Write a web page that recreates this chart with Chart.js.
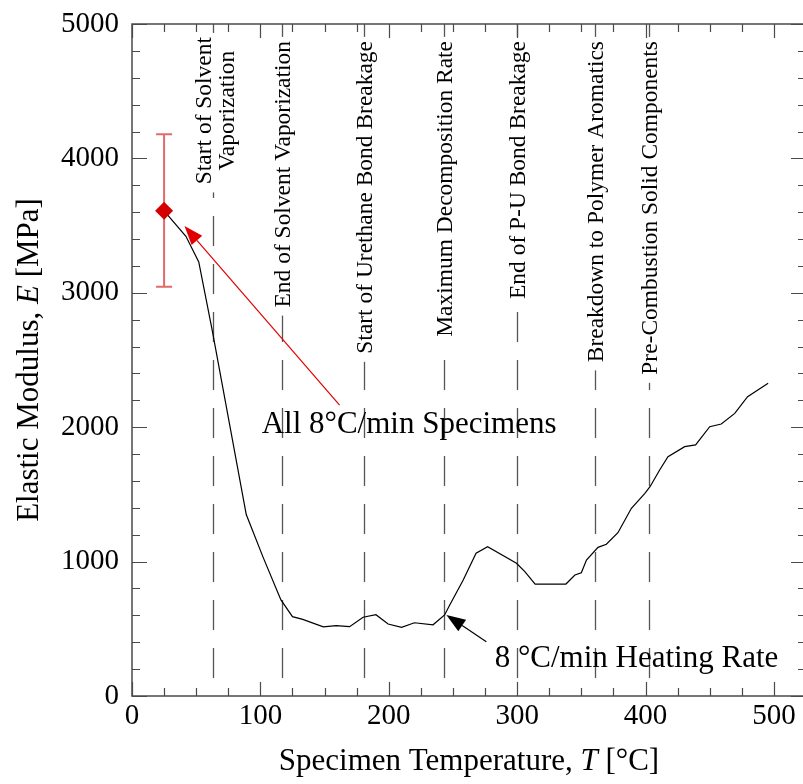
<!DOCTYPE html>
<html>
<head>
<meta charset="utf-8">
<script src="https://cdn.jsdelivr.net/npm/chart.js@4.4.1/dist/chart.umd.min.js"></script>
<style>
  html, body { margin: 0; padding: 0; background: #ffffff; overflow: hidden; }
  #wrap { position: relative; width: 803px; height: 784px; overflow: hidden; }
</style>
</head>
<body>
<div id="wrap"><canvas id="chart" width="803" height="784"></canvas></div>
<script>
// Elastic modulus of the specimen while heated at 8 °C/min
const temperature = [25, 42, 52, 62.6, 89, 102, 116, 125, 133, 149, 159, 169.5, 180, 190, 199.5,
  210, 220, 234.5, 243.5, 247.5, 258, 268, 277, 299.5, 306, 314, 338, 345, 350, 354,
  363, 369.5, 378.5, 389, 399.5, 403.5, 411, 417.5, 430.5, 439, 450, 459, 469.5, 479.5, 495.5];
const modulus = [3610, 3420, 3230, 2715, 1350, 1035, 715, 590, 570, 515, 523, 516, 586, 605, 536,
  511, 545, 530, 603, 677, 863, 1062, 1111, 987, 925, 833, 833, 900, 917, 1012,
  1106, 1129, 1215, 1397, 1508, 1557, 1682, 1780, 1855, 1868, 2004, 2024, 2103, 2227, 2327];

// Room-temperature mean of all 8 °C/min specimens with its scatter band
const specimenT = [25];
const specimenE = [3610];
const specimenLow = [3045];
const specimenHigh = [4180];

// Thermal events marked along the heating curve
const eventT = [63, 117, 181, 243, 300, 361, 403];
const eventLabels = [
  ["Start of Solvent", "Vaporization"],
  ["End of Solvent Vaporization"],
  ["Start of Urethane Bond Breakage"],
  ["Maximum Decomposition Rate"],
  ["End of P-U Bond Breakage"],
  ["Breakdown to Polymer Aromatics"],
  ["Pre-Combustion Solid Components"]
];

// Axis ticks
const xTickValues = [0, 100, 200, 300, 400, 500];
const yTickValues = [0, 1000, 2000, 3000, 4000, 5000];

// Callouts: text anchor and arrow tail/tip in data units
const callouts = [
  { text: "All 8°C/min Specimens", at: [101, 1957], tail: [161.7, 2165], tip: [40.9, 3497], color: "#e00000" },
  { text: "8 °C/min Heating Rate", at: [282.5, 216], tail: [276, 404], tip: [244.9, 603], color: "#000000" }
];

const SERIF = '"Liberation Serif", "Times New Roman", serif';
const AXIS_COLOR = "#4a4a4a";
// plot frame in canvas pixels; the right edge sits just past the page border
const FRAME = { left: 132, top: 24, right: 806, bottom: 696 };

function richText(ctx, parts, cx, cy, size) {
  let total = 0;
  const widths = parts.map(p => {
    ctx.font = (p.italic ? "italic " : "") + size + "px " + SERIF;
    const w = ctx.measureText(p.text).width;
    total += w;
    return w;
  });
  let x = cx - total / 2;
  ctx.textAlign = "left";
  ctx.textBaseline = "alphabetic";
  parts.forEach((p, i) => {
    ctx.font = (p.italic ? "italic " : "") + size + "px " + SERIF;
    ctx.fillText(p.text, x, cy);
    x += widths[i];
  });
}

function arrow(ctx, x0, y0, x1, y1, color, headLen, headHalf) {
  const ang = Math.atan2(y1 - y0, x1 - x0);
  const bx = x1 - headLen * Math.cos(ang), by = y1 - headLen * Math.sin(ang);
  ctx.strokeStyle = color;
  ctx.fillStyle = color;
  ctx.lineWidth = 1.2;
  ctx.beginPath();
  ctx.moveTo(x0, y0);
  ctx.lineTo(bx, by);
  ctx.stroke();
  ctx.beginPath();
  ctx.moveTo(x1, y1);
  ctx.lineTo(bx + headHalf * Math.sin(ang), by - headHalf * Math.cos(ang));
  ctx.lineTo(bx - headHalf * Math.sin(ang), by + headHalf * Math.cos(ang));
  ctx.closePath();
  ctx.fill();
}

// pin the plot area to the frame
const framePlugin = {
  id: "frame",
  afterLayout(chart) {
    const { x, y } = chart.scales;
    const a = chart.chartArea;
    a.left = FRAME.left; a.right = FRAME.right; a.top = FRAME.top; a.bottom = FRAME.bottom;
    a.width = FRAME.right - FRAME.left; a.height = FRAME.bottom - FRAME.top;
    x.left = FRAME.left; x.right = FRAME.right; x.width = a.width;
    x.top = FRAME.bottom; x.bottom = chart.height; x.height = chart.height - FRAME.bottom;
    x.configure();
    y.top = FRAME.top; y.bottom = FRAME.bottom; y.height = a.height;
    y.left = 0; y.right = FRAME.left; y.width = FRAME.left;
    y.configure();
  }
};

const eventPlugin = {
  id: "events",
  beforeDatasetsDraw(chart) {
    const { ctx, chartArea: a, scales: { x, y } } = chart;
    ctx.save();
    // dashed event markers
    ctx.strokeStyle = "#555555";
    ctx.lineWidth = 1.3;
    ctx.setLineDash([30, 18]);
    eventT.forEach(t => {
      const px = Math.round(x.getPixelForValue(t)) + 0.5;
      ctx.beginPath();
      ctx.moveTo(px, a.top);
      ctx.lineTo(px, a.bottom);
      ctx.stroke();
    });
    ctx.setLineDash([]);

    // event labels, rotated, reading upward
    const size = 23, stretch = 1.02;
    eventT.forEach((t, i) => {
      const px = x.getPixelForValue(t);
      const lines = eventLabels[i];
      ctx.save();
      ctx.translate(px, 0);
      ctx.rotate(-Math.PI / 2);
      ctx.scale(stretch, 1);
      ctx.font = size + "px " + SERIF;
      const widths = lines.map(s => ctx.measureText(s).width);
      const maxW = Math.max(...widths);
      const topEnd = lines.length > 1 ? 37 : 41;
      const uTop = -topEnd / stretch;
      // clear the marker behind the label
      ctx.fillStyle = "#ffffff";
      ctx.fillRect(uTop - maxW - 8, -5, maxW + 12, 10);
      ctx.fillStyle = "#000000";
      ctx.textBaseline = "alphabetic";
      ctx.textAlign = "center";
      const base = lines.length > 1 ? [-1.5, 21] : [8];
      lines.forEach((s, k) => {
        ctx.fillText(s, uTop - maxW / 2, base[k]);
      });
      ctx.restore();
    });

    // scatter band of the specimens
    ctx.strokeStyle = "#e36a6a";
    ctx.lineWidth = 2;
    specimenT.forEach((t, i) => {
      const px = x.getPixelForValue(t);
      const yl = y.getPixelForValue(specimenLow[i]);
      const yh = y.getPixelForValue(specimenHigh[i]);
      ctx.beginPath();
      ctx.moveTo(px, yl); ctx.lineTo(px, yh);
      ctx.moveTo(px - 8, yl); ctx.lineTo(px + 8, yl);
      ctx.moveTo(px - 8, yh); ctx.lineTo(px + 8, yh);
      ctx.stroke();
    });
    ctx.restore();
  },
  afterDraw(chart) {
    const { ctx, chartArea: a, scales: { x, y } } = chart;
    ctx.save();
    // frame
    ctx.strokeStyle = AXIS_COLOR;
    ctx.lineWidth = 1.5;
    ctx.strokeRect(a.left, a.top, a.right - a.left, a.bottom - a.top);
    // ticks on all four sides, pointing inward
    ctx.lineWidth = 1.2;
    ctx.beginPath();
    for (let v = 0; v <= x.max + 1e-6; v += 25) {
      const px = Math.round(x.getPixelForValue(v)) + 0.5;
      const len = v % 100 === 0 ? 14 : 8;
      ctx.moveTo(px, a.bottom); ctx.lineTo(px, a.bottom - len);
      ctx.moveTo(px, a.top); ctx.lineTo(px, a.top + len);
    }
    for (let v = 0; v <= y.max + 1e-6; v += 200) {
      const py = Math.round(y.getPixelForValue(v)) + 0.5;
      const len = v % 1000 === 0 ? 15 : 8;
      ctx.moveTo(a.left, py); ctx.lineTo(a.left + len, py);
      ctx.moveTo(a.right, py); ctx.lineTo(a.right - len, py);
    }
    ctx.stroke();

    // callouts
    callouts.forEach(c => {
      arrow(ctx, x.getPixelForValue(c.tail[0]), y.getPixelForValue(c.tail[1]),
        x.getPixelForValue(c.tip[0]), y.getPixelForValue(c.tip[1]), c.color, 19, 7);
      ctx.fillStyle = "#000000";
      ctx.font = "31px " + SERIF;
      ctx.textAlign = "left";
      ctx.textBaseline = "alphabetic";
      ctx.fillText(c.text, x.getPixelForValue(c.at[0]), y.getPixelForValue(c.at[1]));
    });

    // axis titles
    ctx.fillStyle = "#000000";
    richText(ctx, [{ text: "Specimen Temperature, " }, { text: "T", italic: true }, { text: " [°C]" }],
      (a.left + a.right) / 2, 770, 31);
    ctx.save();
    ctx.translate(38, (a.top + a.bottom) / 2);
    ctx.rotate(-Math.PI / 2);
    richText(ctx, [{ text: "Elastic Modulus, " }, { text: "E", italic: true }, { text: " [MPa]" }], 0, 0, 31);
    ctx.restore();
    ctx.restore();
  }
};

new Chart(document.getElementById("chart"), {
  type: "scatter",
  data: {
    datasets: [
      {
        label: "8 °C/min heating rate",
        data: temperature.map((t, i) => ({ x: t, y: modulus[i] })),
        showLine: true,
        borderColor: "#000000",
        borderWidth: 1.2,
        pointRadius: 0,
        tension: 0,
        order: 2
      },
      {
        label: "All 8°C/min specimens",
        data: specimenT.map((t, i) => ({ x: t, y: specimenE[i] })),
        pointStyle: "rectRot",
        pointRadius: 9,
        backgroundColor: "#d40000",
        borderColor: "#d40000",
        borderWidth: 0,
        order: 1
      }
    ]
  },
  options: {
    responsive: false,
    animation: false,
    devicePixelRatio: 1,
    layout: { padding: { left: 0, top: 24, right: 0, bottom: 0 } },
    plugins: { legend: { display: false }, tooltip: { enabled: false } },
    scales: {
      x: {
        type: "linear",
        min: 0,
        max: 525,
        afterFit(s) { s.height = 88; s.paddingLeft = 0; s.paddingRight = 0; },
        afterBuildTicks(s) { s.ticks = xTickValues.map(v => ({ value: v })); },
        grid: { display: false, drawTicks: false },
        border: { display: false },
        ticks: { color: "#000000", padding: 3, maxRotation: 0, font: { family: SERIF, size: 29 },
          callback: v => String(v) }
      },
      y: {
        type: "linear",
        min: 0,
        max: 5000,
        afterFit(s) { s.width = 132; s.paddingTop = 0; s.paddingBottom = 0; },
        afterBuildTicks(s) { s.ticks = yTickValues.map(v => ({ value: v })); },
        grid: { display: false, drawTicks: true, tickLength: 7 },
        border: { display: false },
        ticks: { color: "#000000", padding: 6, font: { family: SERIF, size: 29 },
          callback: v => String(v) }
      }
    }
  },
  plugins: [framePlugin, eventPlugin]
});
</script>
</body>
</html>
